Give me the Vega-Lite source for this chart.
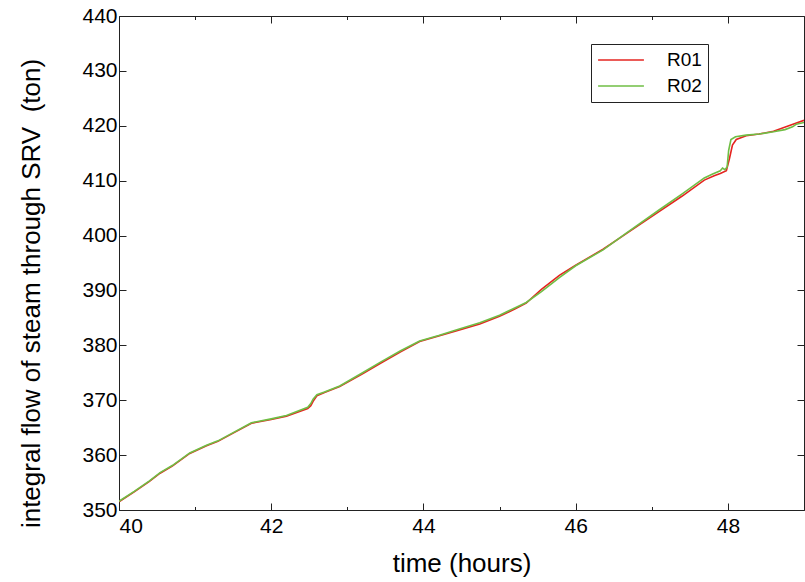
{
  "$schema": "https://vega.github.io/schema/vega-lite/v6.json",
  "width": 685,
  "height": 494,
  "autosize": "none",
  "padding": {"left": 119, "top": 16, "right": 1, "bottom": 72},
  "background": "white",
  "config": {
    "font": "Liberation Sans",
    "view": {"stroke": "#222", "strokeWidth": 1},
    "axis": {"domain": false, "grid": false, "tickColor": "#222", "labelColor": "black", "titleColor": "black", "titleFontWeight": "normal", "labelFont": "Liberation Sans", "titleFont": "Liberation Sans"}
  },
  "datasets": {
    "series": [
      {"t": 40.0, "v": 351.5, "run": "R01"},
      {"t": 40.2, "v": 353.3, "run": "R01"},
      {"t": 40.4, "v": 355.2, "run": "R01"},
      {"t": 40.54, "v": 356.7, "run": "R01"},
      {"t": 40.7, "v": 358.0, "run": "R01"},
      {"t": 40.93, "v": 360.3, "run": "R01"},
      {"t": 41.15, "v": 361.7, "run": "R01"},
      {"t": 41.3, "v": 362.5, "run": "R01"},
      {"t": 41.5, "v": 364.0, "run": "R01"},
      {"t": 41.74, "v": 365.8, "run": "R01"},
      {"t": 42.0, "v": 366.5, "run": "R01"},
      {"t": 42.2, "v": 367.1, "run": "R01"},
      {"t": 42.48, "v": 368.5, "run": "R01"},
      {"t": 42.52, "v": 369.0, "run": "R01"},
      {"t": 42.55, "v": 369.8, "run": "R01"},
      {"t": 42.6, "v": 370.8, "run": "R01"},
      {"t": 42.7, "v": 371.4, "run": "R01"},
      {"t": 42.9, "v": 372.5, "run": "R01"},
      {"t": 43.2, "v": 374.8, "run": "R01"},
      {"t": 43.43, "v": 376.7, "run": "R01"},
      {"t": 43.7, "v": 378.8, "run": "R01"},
      {"t": 43.95, "v": 380.7, "run": "R01"},
      {"t": 44.2, "v": 381.7, "run": "R01"},
      {"t": 44.45, "v": 382.7, "run": "R01"},
      {"t": 44.74, "v": 383.9, "run": "R01"},
      {"t": 45.0, "v": 385.3, "run": "R01"},
      {"t": 45.2, "v": 386.6, "run": "R01"},
      {"t": 45.35, "v": 387.7, "run": "R01"},
      {"t": 45.55, "v": 390.2, "run": "R01"},
      {"t": 45.79, "v": 392.8, "run": "R01"},
      {"t": 46.0, "v": 394.6, "run": "R01"},
      {"t": 46.36, "v": 397.5, "run": "R01"},
      {"t": 46.66, "v": 400.3, "run": "R01"},
      {"t": 47.1, "v": 404.4, "run": "R01"},
      {"t": 47.4, "v": 407.2, "run": "R01"},
      {"t": 47.69, "v": 410.1, "run": "R01"},
      {"t": 47.82, "v": 410.9, "run": "R01"},
      {"t": 47.9, "v": 411.3, "run": "R01"},
      {"t": 47.98, "v": 411.8, "run": "R01"},
      {"t": 48.02, "v": 414.0, "run": "R01"},
      {"t": 48.06, "v": 416.5, "run": "R01"},
      {"t": 48.11, "v": 417.5, "run": "R01"},
      {"t": 48.24, "v": 418.2, "run": "R01"},
      {"t": 48.41, "v": 418.5, "run": "R01"},
      {"t": 48.6, "v": 419.0, "run": "R01"},
      {"t": 48.8, "v": 420.0, "run": "R01"},
      {"t": 49.0, "v": 421.0, "run": "R01"},
      {"t": 40.0, "v": 351.6, "run": "R02"},
      {"t": 40.2, "v": 353.4, "run": "R02"},
      {"t": 40.4, "v": 355.3, "run": "R02"},
      {"t": 40.54, "v": 356.8, "run": "R02"},
      {"t": 40.7, "v": 358.1, "run": "R02"},
      {"t": 40.93, "v": 360.4, "run": "R02"},
      {"t": 41.15, "v": 361.8, "run": "R02"},
      {"t": 41.3, "v": 362.6, "run": "R02"},
      {"t": 41.5, "v": 364.1, "run": "R02"},
      {"t": 41.74, "v": 365.9, "run": "R02"},
      {"t": 42.0, "v": 366.6, "run": "R02"},
      {"t": 42.2, "v": 367.2, "run": "R02"},
      {"t": 42.48, "v": 368.7, "run": "R02"},
      {"t": 42.52, "v": 369.4, "run": "R02"},
      {"t": 42.55, "v": 370.2, "run": "R02"},
      {"t": 42.6, "v": 371.0, "run": "R02"},
      {"t": 42.7, "v": 371.5, "run": "R02"},
      {"t": 42.9, "v": 372.6, "run": "R02"},
      {"t": 43.2, "v": 375.0, "run": "R02"},
      {"t": 43.43, "v": 376.9, "run": "R02"},
      {"t": 43.7, "v": 379.0, "run": "R02"},
      {"t": 43.95, "v": 380.8, "run": "R02"},
      {"t": 44.2, "v": 381.8, "run": "R02"},
      {"t": 44.45, "v": 382.9, "run": "R02"},
      {"t": 44.74, "v": 384.1, "run": "R02"},
      {"t": 45.0, "v": 385.5, "run": "R02"},
      {"t": 45.2, "v": 386.8, "run": "R02"},
      {"t": 45.35, "v": 387.8, "run": "R02"},
      {"t": 45.55, "v": 389.8, "run": "R02"},
      {"t": 45.79, "v": 392.4, "run": "R02"},
      {"t": 46.0, "v": 394.5, "run": "R02"},
      {"t": 46.36, "v": 397.4, "run": "R02"},
      {"t": 46.66, "v": 400.4, "run": "R02"},
      {"t": 47.1, "v": 404.7, "run": "R02"},
      {"t": 47.4, "v": 407.6, "run": "R02"},
      {"t": 47.69, "v": 410.5, "run": "R02"},
      {"t": 47.8, "v": 411.2, "run": "R02"},
      {"t": 47.9, "v": 411.8, "run": "R02"},
      {"t": 47.93, "v": 412.3, "run": "R02"},
      {"t": 47.96, "v": 412.0, "run": "R02"},
      {"t": 47.99, "v": 412.5, "run": "R02"},
      {"t": 48.01, "v": 415.5, "run": "R02"},
      {"t": 48.04, "v": 417.5, "run": "R02"},
      {"t": 48.1, "v": 418.0, "run": "R02"},
      {"t": 48.24, "v": 418.3, "run": "R02"},
      {"t": 48.41, "v": 418.5, "run": "R02"},
      {"t": 48.6, "v": 418.9, "run": "R02"},
      {"t": 48.75, "v": 419.3, "run": "R02"},
      {"t": 48.85, "v": 419.8, "run": "R02"},
      {"t": 48.9, "v": 420.3, "run": "R02"},
      {"t": 49.0, "v": 420.6, "run": "R02"}
    ]
  },
  "data": {"name": "series"},
  "layer": [
    {
      "mark": {"type": "line", "strokeWidth": 1.6, "clip": true},
      "encoding": {
        "x": {
          "field": "t", "type": "quantitative",
          "scale": {"domain": [40, 49], "nice": false, "zero": false},
          "axis": {
            "orient": "bottom",
            "title": "time (hours)",
            "titleFontSize": 26,
            "titlePadding": 14,
            "labelFontSize": 21,
            "labelPadding": 12,
            "values": [40, 41, 42, 43, 44, 45, 46, 47, 48, 49],
            "labelExpr": "datum.value % 2 === 0 ? datum.label : ''",
            "tickSize": {"condition": {"test": "datum.value % 2 === 0", "value": -7}, "value": -3.5}
          }
        },
        "y": {
          "field": "v", "type": "quantitative",
          "scale": {"domain": [350, 440], "nice": false, "zero": false},
          "axis": {
            "orient": "left",
            "title": "integral flow of steam through SRV\u00a0 (ton)",
            "titleFontSize": 26,
            "titleX": -88,
            "titleY": 277,
            "titleAngle": 270,
            "titleBaseline": "middle",
            "titleAlign": "center",
            "labelFontSize": 21,
            "labelPadding": 9,
            "values": [350, 360, 370, 380, 390, 400, 410, 420, 430, 440],
            "tickSize": -7
          }
        },
        "color": {
          "field": "run", "type": "nominal",
          "scale": {"domain": ["R01", "R02"], "range": ["#e52420", "#6fbe44"]},
          "legend": {
            "title": null,
            "orient": "none",
            "legendX": 472,
            "legendY": 28,
            "symbolType": "stroke",
            "symbolSize": 2100,
            "symbolStrokeWidth": 1.6,
            "labelFontSize": 19,
            "labelOffset": 22,
            "clipHeight": 20,
            "rowPadding": 6,
            "padding": 6,
            "strokeColor": "#222",
            "fillColor": "white"
          }
        }
      }
    },
    {
      "mark": {"type": "point", "opacity": 0},
      "encoding": {
        "x": {
          "field": "t", "type": "quantitative",
          "axis": {
            "orient": "top", "title": null, "labels": false,
            "values": [40, 41, 42, 43, 44, 45, 46, 47, 48, 49],
            "tickSize": {"condition": {"test": "datum.value % 2 === 0", "value": -7}, "value": -3.5}
          }
        },
        "y": {
          "field": "v", "type": "quantitative",
          "axis": {
            "orient": "right", "title": null, "labels": false,
            "values": [350, 360, 370, 380, 390, 400, 410, 420, 430, 440],
            "tickSize": -7
          }
        }
      }
    }
  ],
  "resolve": {"axis": {"x": "independent", "y": "independent"}}
}
